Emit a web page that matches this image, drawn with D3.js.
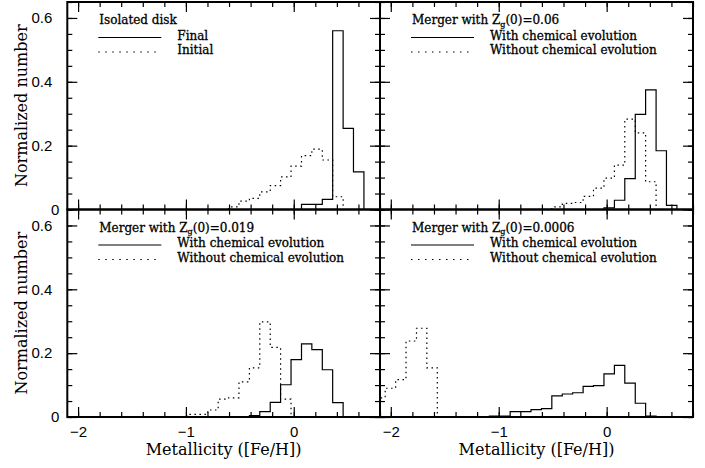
<!DOCTYPE html>
<html>
<head>
<meta charset="utf-8">
<script src="https://cdn.jsdelivr.net/npm/d3@7"></script>
<style>
  html, body { margin: 0; padding: 0; background: #fff; }
  svg { display: block; }
</style>
</head>
<body>
<div id="chart"></div>
<script>
const W = 705, H = 468;

// bin edges in [Fe/H] (bins are ~0.0965 wide), 31 edges -> 30 bins
const binEdges = [-2.148, -2.052, -1.955, -1.859, -1.762, -1.666, -1.569, -1.473, -1.376, -1.280,
  -1.183, -1.087, -0.990, -0.894, -0.797, -0.701, -0.604, -0.508, -0.411, -0.315,
  -0.218, -0.122, -0.025, 0.072, 0.168, 0.265, 0.361, 0.458, 0.554, 0.651, 0.747];

// normalized number per bin, one value per bin above
const diskFinal    = [0,0,0,0,0,0,0,0,0,0, 0,0,0,0,0,0,0,0,0,0, 0,0,0,.016,.016,.032,.56,.254,.118,0];
const diskInitial  = [0,0,0,0,0,0,0,0,0,0, 0,0,0,0,0,0,.008,.026,.035,.055, .075,.102,.136,.169,.189,.155,.04,0,0,0];
const z06With      = [0,0,0,0,0,0,0,0,0,0, 0,0,0,0,0,0,0,0,0,0, 0,0,.005,.029,.097,.298,.375,.184,.013,0];
const z06Without   = [0,0,0,0,0,0,0,0,0,0, 0,0,0,0,0,0,0,.008,.019,.022, .041,.067,.098,.139,.283,.24,.087,0,0,0];
const z019With     = [0,0,0,0,0,0,0,0,0,0, 0,0,0,0,0,0,0,0,.004,.017, .046,.101,.18,.229,.211,.148,.045,0,0,0];
const z019Without  = [0,0,0,0,0,0,0,0,0,0, 0,0,.008,.008,.022,.056,.06,.11,.154,.298, .218,.056,0,0,0,0,0,0,0,0];
const z0006With    = [0,0,0,0,0,0,0,0,0,0, 0,.003,.003,.017,.017,.023,.026,.066,.072,.076, .096,.098,.135,.162,.106,.043,.003,0,0,0];
const z0006Without = [.06,.09,.117,.238,.278,.154,0,0,0,0, 0,0,0,0,0,0,0,0,0,0, 0,0,0,0,0,0,0,0,0,0];

const solidSeries  = [diskFinal, z06With, z019With, z0006With];
const dottedSeries = [diskInitial, z06Without, z019Without, z0006Without];

const titleMain = ["Isolated disk", "Merger with Z", "Merger with Z", "Merger with Z"];
const titleSub  = ["", "g", "g", "g"];
const titleTail = ["", "(0)=0.06", "(0)=0.019", "(0)=0.0006"];
const solidLabels  = ["Final", "With chemical evolution", "With chemical evolution", "With chemical evolution"];
const dottedLabels = ["Initial", "Without chemical evolution", "Without chemical evolution", "Without chemical evolution"];

const xDomain = [-2.1, 0.8], yDomain = [0, 0.65];
const colX = [[67.3, 380], [380, 693]];
const rowY = [[209.5, 2], [417, 209.5]];

const serif = "DejaVu Serif";
const sans = "Liberation Sans";

const svg = d3.select("#chart").append("svg")
  .attr("width", W).attr("height", H)
  .style("background", "#fff");

function stepPath(values, x, y) {
  const first = values.findIndex(v => v > 0);
  const last = values.length - 1 - [...values].reverse().findIndex(v => v > 0);
  const pts = [[binEdges[first], 0]];
  for (let i = first; i <= last; i++) {
    pts.push([binEdges[i], values[i]], [binEdges[i + 1], values[i]]);
  }
  pts.push([binEdges[last + 1], 0]);
  return d3.line().x(d => x(d[0])).y(d => y(d[1]))(pts);
}

function tickSet(g, axis, tr) {
  g.append("g").attr("transform", tr).call(axis)
    .call(a => a.select(".domain").remove())
    .call(a => a.selectAll("text").remove())
    .call(a => a.selectAll("line").attr("stroke", "#000").attr("stroke-width", 1.2));
}

for (let idx = 0; idx < 4; idx++) {
  const col = idx % 2, row = Math.floor(idx / 2);
  const x = d3.scaleLinear(xDomain, colX[col]);
  const y = d3.scaleLinear(yDomain, rowY[row]);
  const x0 = x(xDomain[0]), x1 = x(xDomain[1]);
  const y0 = y(0), y1 = y(yDomain[1]);
  const g = svg.append("g");

  const clipId = "clip" + idx;
  g.append("clipPath").attr("id", clipId).append("rect")
    .attr("x", x0).attr("y", y1).attr("width", x1 - x0).attr("height", y0 - y1);

  // histograms
  const hg = g.append("g").attr("clip-path", `url(#${clipId})`);
  hg.append("path")
    .attr("d", stepPath(dottedSeries[idx], x, y))
    .attr("fill", "none").attr("stroke", "#000").attr("stroke-width", 1.2)
    .attr("stroke-dasharray", "1.5,3.5");
  hg.append("path")
    .attr("d", stepPath(solidSeries[idx], x, y))
    .attr("fill", "none").attr("stroke", "#000").attr("stroke-width", 1.2);

  // inward ticks on all four sides
  const xMinor = x.ticks(15), xMajor = x.ticks(3);
  const yMinor = y.ticks(13), yMajor = y.ticks(4);
  tickSet(g, d3.axisTop(x).tickValues(xMinor).tickSize(5), `translate(0,${y0})`);
  tickSet(g, d3.axisTop(x).tickValues(xMajor).tickSize(10), `translate(0,${y0})`);
  tickSet(g, d3.axisBottom(x).tickValues(xMinor).tickSize(5), `translate(0,${y1})`);
  tickSet(g, d3.axisBottom(x).tickValues(xMajor).tickSize(10), `translate(0,${y1})`);
  tickSet(g, d3.axisRight(y).tickValues(yMinor).tickSize(5), `translate(${x0},0)`);
  tickSet(g, d3.axisRight(y).tickValues(yMajor).tickSize(10), `translate(${x0},0)`);
  tickSet(g, d3.axisLeft(y).tickValues(yMinor).tickSize(5), `translate(${x1},0)`);
  tickSet(g, d3.axisLeft(y).tickValues(yMajor).tickSize(10), `translate(${x1},0)`);

  // frame
  g.append("rect")
    .attr("x", x0).attr("y", y1).attr("width", x1 - x0).attr("height", y0 - y1)
    .attr("fill", "none").attr("stroke", "#000").attr("stroke-width", 2);

  // tick labels
  if (col === 0) {
    g.append("g").attr("transform", `translate(${x0},0)`)
      .call(d3.axisLeft(y).tickValues(yMajor).tickSize(0).tickPadding(15)
        .tickFormat(d => d === 0 ? "0" : d3.format(".1f")(d)))
      .call(a => a.select(".domain").remove())
      .call(a => a.selectAll("text")
        .attr("font-family", sans).attr("font-size", 15).attr("fill", "#000")
        .attr("dx", d => d === 0 ? 7 : 0));
    g.append("text")
      .attr("transform", `translate(27,${(y0 + y1) / 2}) rotate(-90)`)
      .attr("text-anchor", "middle")
      .attr("font-family", serif).attr("font-size", 16).attr("fill", "#000")
      .text("Normalized number");
  }
  if (row === 1) {
    g.append("g").attr("transform", `translate(0,${y0})`)
      .call(d3.axisBottom(x).tickValues(xMajor).tickSize(0).tickPadding(9.5)
        .tickFormat(d3.format("d")))
      .call(a => a.select(".domain").remove())
      .call(a => a.selectAll("text")
        .attr("font-family", sans).attr("font-size", 15).attr("fill", "#000"));
    g.append("text")
      .attr("x", (x0 + x1) / 2).attr("y", 455)
      .attr("text-anchor", "middle")
      .attr("font-family", serif).attr("font-size", 16).attr("fill", "#000")
      .text("Metallicity ([Fe/H])");
  }

  // legend
  const lg = g.append("g").attr("transform", `translate(${x0},${y1})`)
    .attr("font-family", serif).attr("font-size", 12).attr("fill", "#000")
    .attr("stroke", "#000").attr("stroke-width", 0.3);
  const t = lg.append("text").attr("x", 32).attr("y", 22);
  t.append("tspan").text(titleMain[idx]);
  if (titleSub[idx]) {
    t.append("tspan").attr("font-size", 8).attr("dy", 2.5).text(titleSub[idx]);
    t.append("tspan").attr("dy", -2.5).text(titleTail[idx]);
  }
  lg.append("line").attr("x1", 31).attr("x2", 94).attr("y1", 35.5).attr("y2", 35.5)
    .attr("stroke-width", 1.2);
  lg.append("text").attr("x", 110).attr("y", 37.5).text(solidLabels[idx]);
  lg.append("line").attr("x1", 31).attr("x2", 94).attr("y1", 50).attr("y2", 50)
    .attr("stroke-width", 1.2).attr("stroke-dasharray", "1.5,5.5");
  lg.append("text").attr("x", 110).attr("y", 52).text(dottedLabels[idx]);
}
</script>
</body>
</html>
